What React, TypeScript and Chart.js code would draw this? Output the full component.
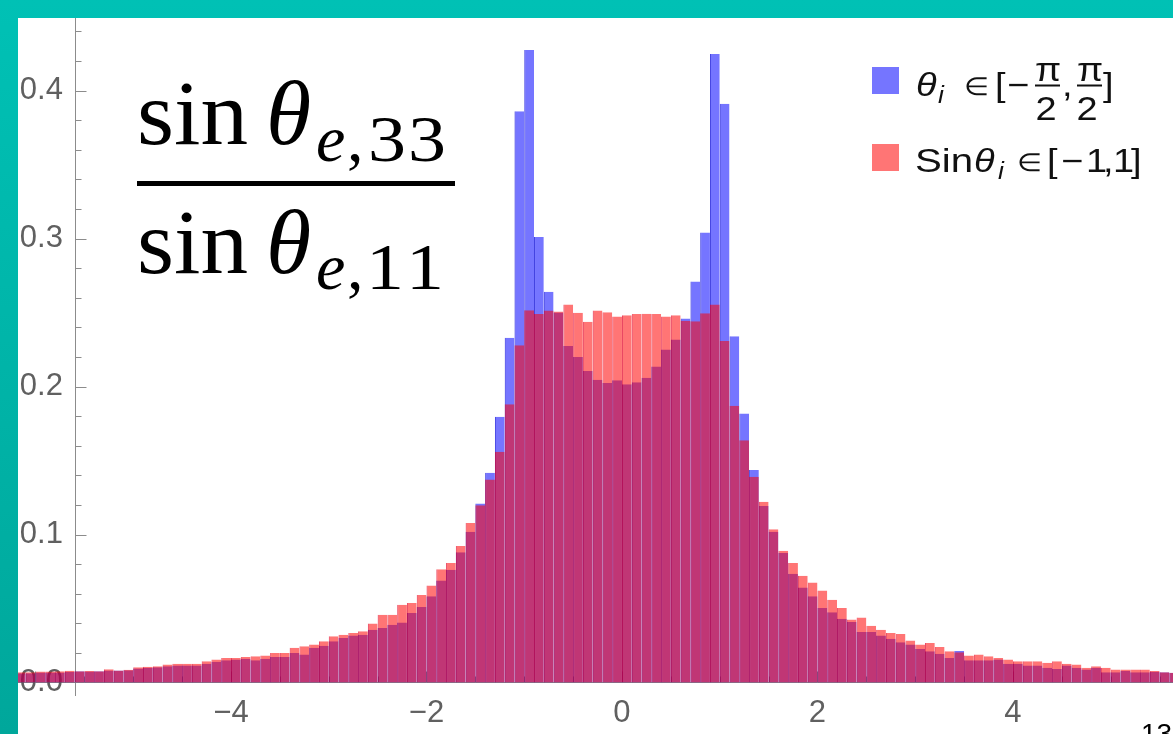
import React, { useEffect, useRef } from 'react';
import { Chart, registerables } from 'chart.js';

Chart.register(...registerables);

// ---- data (bins of width 0.1, first bin starts at -6.2) ----
const binStart = -6.2;
const binWidth = 0.1;

const blueValues = [
  0.0063, 0.0063, 0.0068, 0.0068, 0.0068, 0.0072, 0.0076, 0.0074, 0.0076, 0.0081,
  0.0081, 0.0083, 0.0094, 0.0099, 0.0103, 0.011, 0.0115, 0.0115, 0.0115, 0.0126,
  0.014, 0.015, 0.0155, 0.016, 0.015, 0.016, 0.0173, 0.0173, 0.02, 0.0189,
  0.0234, 0.0249, 0.0278, 0.03, 0.0317, 0.0323, 0.0357, 0.0368, 0.039, 0.0406,
  0.047, 0.051, 0.0582, 0.069, 0.0761, 0.088, 0.1018, 0.121, 0.1417, 0.1795,
  0.233, 0.386, 0.4274, 0.301, 0.264, 0.25, 0.2273, 0.2199, 0.2105, 0.2046,
  0.2024, 0.2042, 0.2015, 0.2028, 0.206, 0.2136, 0.225, 0.2318, 0.246, 0.271,
  0.304, 0.4247, 0.391, 0.234, 0.1817, 0.1435, 0.1193, 0.1018, 0.0875, 0.0734,
  0.0642, 0.0582, 0.0503, 0.0474, 0.0431, 0.0409, 0.0342, 0.0342, 0.0317, 0.0296,
  0.0272, 0.0256, 0.0227, 0.0211, 0.0195, 0.0166, 0.0213, 0.015, 0.015, 0.015,
  0.0155, 0.0126, 0.0126, 0.0115, 0.0115, 0.0099, 0.0092, 0.0115, 0.0099, 0.0088,
  0.0099, 0.007, 0.007, 0.0077, 0.007, 0.007, 0.0072, 0.007, 0.0066,
];

const redValues = [
  0.0069, 0.0069, 0.0074, 0.0074, 0.0076, 0.0079, 0.0076, 0.0077, 0.0076, 0.009,
  0.0081, 0.0086, 0.0103, 0.0106, 0.011, 0.0121, 0.0126, 0.0126, 0.0126, 0.0144,
  0.0155, 0.0166, 0.0166, 0.0173, 0.0178, 0.0182, 0.02, 0.02, 0.0234, 0.0245,
  0.0256, 0.0278, 0.0312, 0.0323, 0.0335, 0.0346, 0.0398, 0.0458, 0.0458, 0.0526,
  0.0537, 0.0591, 0.0656, 0.0766, 0.0807, 0.0923, 0.1078, 0.1197, 0.1372, 0.1559,
  0.188, 0.2278, 0.2515, 0.249, 0.2513, 0.2507, 0.2554, 0.2498, 0.2437, 0.2513,
  0.2502, 0.2473, 0.2482, 0.249, 0.2492, 0.249, 0.2473, 0.2482, 0.2445, 0.2441,
  0.2495, 0.2554, 0.2307, 0.187, 0.1637, 0.139, 0.1222, 0.1036, 0.089, 0.0807,
  0.0721, 0.0676, 0.0622, 0.0559, 0.0503, 0.0425, 0.044, 0.0384, 0.0357, 0.0335,
  0.0328, 0.0283, 0.0256, 0.0267, 0.024, 0.0211, 0.0205, 0.0182, 0.0189, 0.0178,
  0.0166, 0.0155, 0.0144, 0.0144, 0.0144, 0.0133, 0.0144, 0.0126, 0.0122, 0.0099,
  0.011, 0.0099, 0.0088, 0.0088, 0.0088, 0.0088, 0.0077, 0.007, 0.0066,
];

const xTickLabels = [-4, -2, 0, 2, 4];
const xTickMarks = [-6, -5.5, -5, -4.5, -4, -3.5, -3, -2.5, -2, -1.5, -1, -0.5, 0, 0.5, 1, 1.5, 2, 2.5, 3, 3.5, 4, 4.5, 5, 5.5];
const yTickLabels = [0, 0.1, 0.2, 0.3, 0.4];
const yTickMarks = [0, 0.02, 0.04, 0.06, 0.08, 0.1, 0.12, 0.14, 0.16, 0.18, 0.2, 0.22, 0.24, 0.26, 0.28, 0.3, 0.32, 0.34, 0.36, 0.38, 0.4, 0.42, 0.44];

const seriesLabels = ['θi ∈ [−π/2, π/2]', 'Sinθi ∈ [−1,1]'];

// ---- view geometry ----
const X_MIN = -6.179;
const X_MAX = 5.637;
const Y_MIN = -0.00845;
const Y_MAX = 0.449;
const Y_AXIS_AT = -5.591;
const Y_LABELS_AT = -5.719;
const PAD = 60;
const PANEL_W = 1155;
const PANEL_H = 716;
const AREA_BOTTOM = 677; // chart-area bottom inside the panel

const BLUE = 'rgba(0,0,255,0.54)';
const RED = 'rgba(255,0,0,0.54)';
const AXIS = '#8c8c8c';
const LABEL = '#606060';
const TICK_FONT = { family: "'Liberation Sans', Arial, sans-serif", size: 31 };

const tickPlugin = {
  id: 'axisTickMarks',
  beforeDatasetsDraw(chart: any) {
    const { ctx, scales } = chart;
    const xs = scales.x;
    const ys = scales.y;
    ctx.save();
    ctx.strokeStyle = AXIS;
    ctx.lineWidth = 1;
    const ax = Math.round(xs.getPixelForValue(Y_AXIS_AT)) + 0.5;
    yTickMarks.forEach((v) => {
      const major = Math.abs(v * 10 - Math.round(v * 10)) < 1e-6;
      const py = Math.round(ys.getPixelForValue(v)) + 0.5;
      ctx.beginPath();
      ctx.moveTo(ax, py);
      ctx.lineTo(ax + (major ? 11 : 6), py);
      ctx.stroke();
    });
    const ay = Math.round(ys.getPixelForValue(0)) + 0.5;
    xTickMarks.forEach((v) => {
      const major = Math.abs(v % 2) < 1e-6;
      const px = Math.round(xs.getPixelForValue(v)) + 0.5;
      ctx.beginPath();
      ctx.moveTo(px, ay);
      ctx.lineTo(px, ay - (major ? 11 : 6));
      ctx.stroke();
    });
    ctx.restore();
  },
};

export default function App() {
  const ref = useRef<HTMLCanvasElement>(null);

  useEffect(() => {
    if (!ref.current) return;
    const centers = blueValues.map((_, i) => +(binStart + (i + 0.5) * binWidth).toFixed(3));
    const chart = new Chart(ref.current, {
      type: 'bar',
      data: {
        datasets: [
          {
            label: seriesLabels[0],
            data: centers.map((x, i) => ({ x, y: blueValues[i] })),
            backgroundColor: BLUE,
            borderColor: 'rgba(0,0,215,0.75)',
            borderWidth: { left: 1, top: 0, right: 0, bottom: 0 },
            inflateAmount: 0,
            grouped: false,
            barPercentage: 1,
            categoryPercentage: 1,
            order: 1,
          } as any,
          {
            label: seriesLabels[1],
            data: centers.map((x, i) => ({ x, y: redValues[i] })),
            backgroundColor: RED,
            borderColor: 'rgba(225,0,40,0.72)',
            borderWidth: { left: 1, top: 0, right: 0, bottom: 0 },
            inflateAmount: 0,
            grouped: false,
            barPercentage: 1,
            categoryPercentage: 1,
            order: 0,
          } as any,
        ],
      },
      options: {
        animation: false,
        responsive: false,
        events: [],
        layout: { padding: { left: PAD, right: PAD, top: PAD, bottom: PANEL_H + 2 * PAD - (PAD + AREA_BOTTOM) } },
        plugins: { legend: { display: false }, tooltip: { enabled: false }, title: { display: false } },
        scales: {
          x: {
            type: 'linear',
            min: X_MIN,
            max: X_MAX,
            offset: false,
            position: { y: 0 } as any,
            grid: { display: false, drawTicks: false },
            border: { display: true, color: AXIS, width: 1 },
            afterBuildTicks: (s: any) => {
              s.ticks = xTickLabels.map((v) => ({ value: v }));
            },
            ticks: {
              autoSkip: false,
              maxRotation: 0,
              padding: 12,
              color: LABEL,
              font: TICK_FONT,
              callback: (v: any) => (Number(v) < 0 ? '\u2212' + Math.abs(Number(v)) : String(v)),
            },
          },
          y: {
            type: 'linear',
            min: Y_MIN,
            max: Y_MAX,
            position: { x: Y_AXIS_AT } as any,
            grid: { display: false, drawTicks: false },
            border: { display: true, color: AXIS, width: 1 },
            ticks: { display: false },
          },
          yLabels: {
            type: 'linear',
            axis: 'y',
            min: Y_MIN,
            max: Y_MAX,
            position: { x: Y_LABELS_AT } as any,
            grid: { display: false, drawTicks: false },
            border: { display: false },
            afterBuildTicks: (s: any) => {
              s.ticks = yTickLabels.map((v) => ({ value: v }));
            },
            ticks: {
              autoSkip: false,
              padding: 0,
              color: LABEL,
              font: TICK_FONT,
              callback: (v: any) => Number(v).toFixed(1),
            },
          },
        },
      } as any,
      plugins: [tickPlugin],
    });
    return () => chart.destroy();
  }, []);

  const serif = "'Liberation Serif', 'Times New Roman', serif";
  const sans = "'Liberation Sans', Arial, sans-serif";
  const sx = 'scale(1.15,1)';

  return (
    <div
      style={{
        position: 'fixed',
        left: 0,
        top: 0,
        width: 1173,
        height: 734,
        overflow: 'hidden',
        background: 'linear-gradient(to bottom, #00c1b5, #00a79b)',
      }}
    >
      <div
        style={{
          position: 'absolute',
          left: 18,
          top: 18,
          width: PANEL_W,
          height: PANEL_H,
          background: '#ffffff',
          overflow: 'hidden',
        }}
      >
        <canvas
          ref={ref}
          width={PANEL_W + 2 * PAD}
          height={PANEL_H + 2 * PAD}
          style={{ position: 'absolute', left: -PAD, top: -PAD }}
        />
      </div>
      <svg
        width={1173}
        height={734}
        style={{ position: 'absolute', left: 0, top: 0, pointerEvents: 'none' }}
      >
        {/* fraction sin θe,33 / sin θe,11 */}
        <g fontFamily={serif} fill="#000">
          <text x={137} y={144} fontSize={92} textLength={111} lengthAdjust="spacingAndGlyphs">sin</text>
          <text x={266} y={144} fontSize={92} fontStyle="italic">θ</text>
          <text x={316} y={161} fontSize={66} fontStyle="italic">e</text>
          <text x={347} y={161} fontSize={66}>,</text>
          <text x={368} y={161} fontSize={66} textLength={38} lengthAdjust="spacingAndGlyphs">3</text>
          <text x={408} y={161} fontSize={66} textLength={38} lengthAdjust="spacingAndGlyphs">3</text>
          <rect x={137} y={181} width={318} height={5} fill="#000" />
          <text x={137} y={273} fontSize={92} textLength={111} lengthAdjust="spacingAndGlyphs">sin</text>
          <text x={266} y={273} fontSize={92} fontStyle="italic">θ</text>
          <text x={316} y={289} fontSize={66} fontStyle="italic">e</text>
          <text x={347} y={289} fontSize={66}>,</text>
          <text x={366} y={289} fontSize={66} textLength={38} lengthAdjust="spacingAndGlyphs">1</text>
          <text x={406} y={289} fontSize={66} textLength={38} lengthAdjust="spacingAndGlyphs">1</text>
        </g>

        {/* legend */}
        <rect x={872} y={67} width={27} height={27} fill={BLUE} />
        <rect x={872} y={144} width={27} height={27} fill={RED} />
        <g fontFamily={sans} fill="#111" fontSize={33}>
          <text transform={`translate(916,96) ${sx}`} fontStyle="italic">θ</text>
          <text transform={`translate(938,103) ${sx}`} fontStyle="italic" fontSize={23}>i</text>
          <text transform={`translate(964,95) ${sx}`} fontSize={25}>∈</text>
          <text transform={`translate(995,96) ${sx}`}>[</text>
          <text transform={`translate(1007,96) ${sx}`}>−</text>
          <text transform={`translate(1048,81) ${sx}`} textAnchor="middle">π</text>
          <rect x={1035} y={84.5} width={25} height={2} fill="#111" />
          <text transform={`translate(1046,120) ${sx}`} textAnchor="middle">2</text>
          <text transform={`translate(1062,96) ${sx}`}>,</text>
          <text transform={`translate(1090,81) ${sx}`} textAnchor="middle">π</text>
          <rect x={1077} y={84.5} width={25} height={2} fill="#111" />
          <text transform={`translate(1087,120) ${sx}`} textAnchor="middle">2</text>
          <text transform={`translate(1103,96) ${sx}`}>]</text>

          <text transform={`translate(915,172) scale(1.22,1)`}>Sin</text>
          <text transform={`translate(974,172) ${sx}`} fontStyle="italic">θ</text>
          <text transform={`translate(998,179) ${sx}`} fontStyle="italic" fontSize={23}>i</text>
          <text transform={`translate(1017,171) ${sx}`} fontSize={25}>∈</text>
          <text transform={`translate(1047,172) ${sx}`}>[</text>
          <text transform={`translate(1061,172) ${sx}`}>−</text>
          <text transform={`translate(1086,172) ${sx}`}>1</text>
          <text transform={`translate(1103,172) ${sx}`}>,</text>
          <text transform={`translate(1113,172) ${sx}`}>1</text>
          <text transform={`translate(1131,172) ${sx}`}>]</text>
        </g>

        {/* page number */}
        <text x={1141} y={743} fontFamily={sans} fontSize={28} fill="#000">13</text>
      </svg>
    </div>
  );
}
